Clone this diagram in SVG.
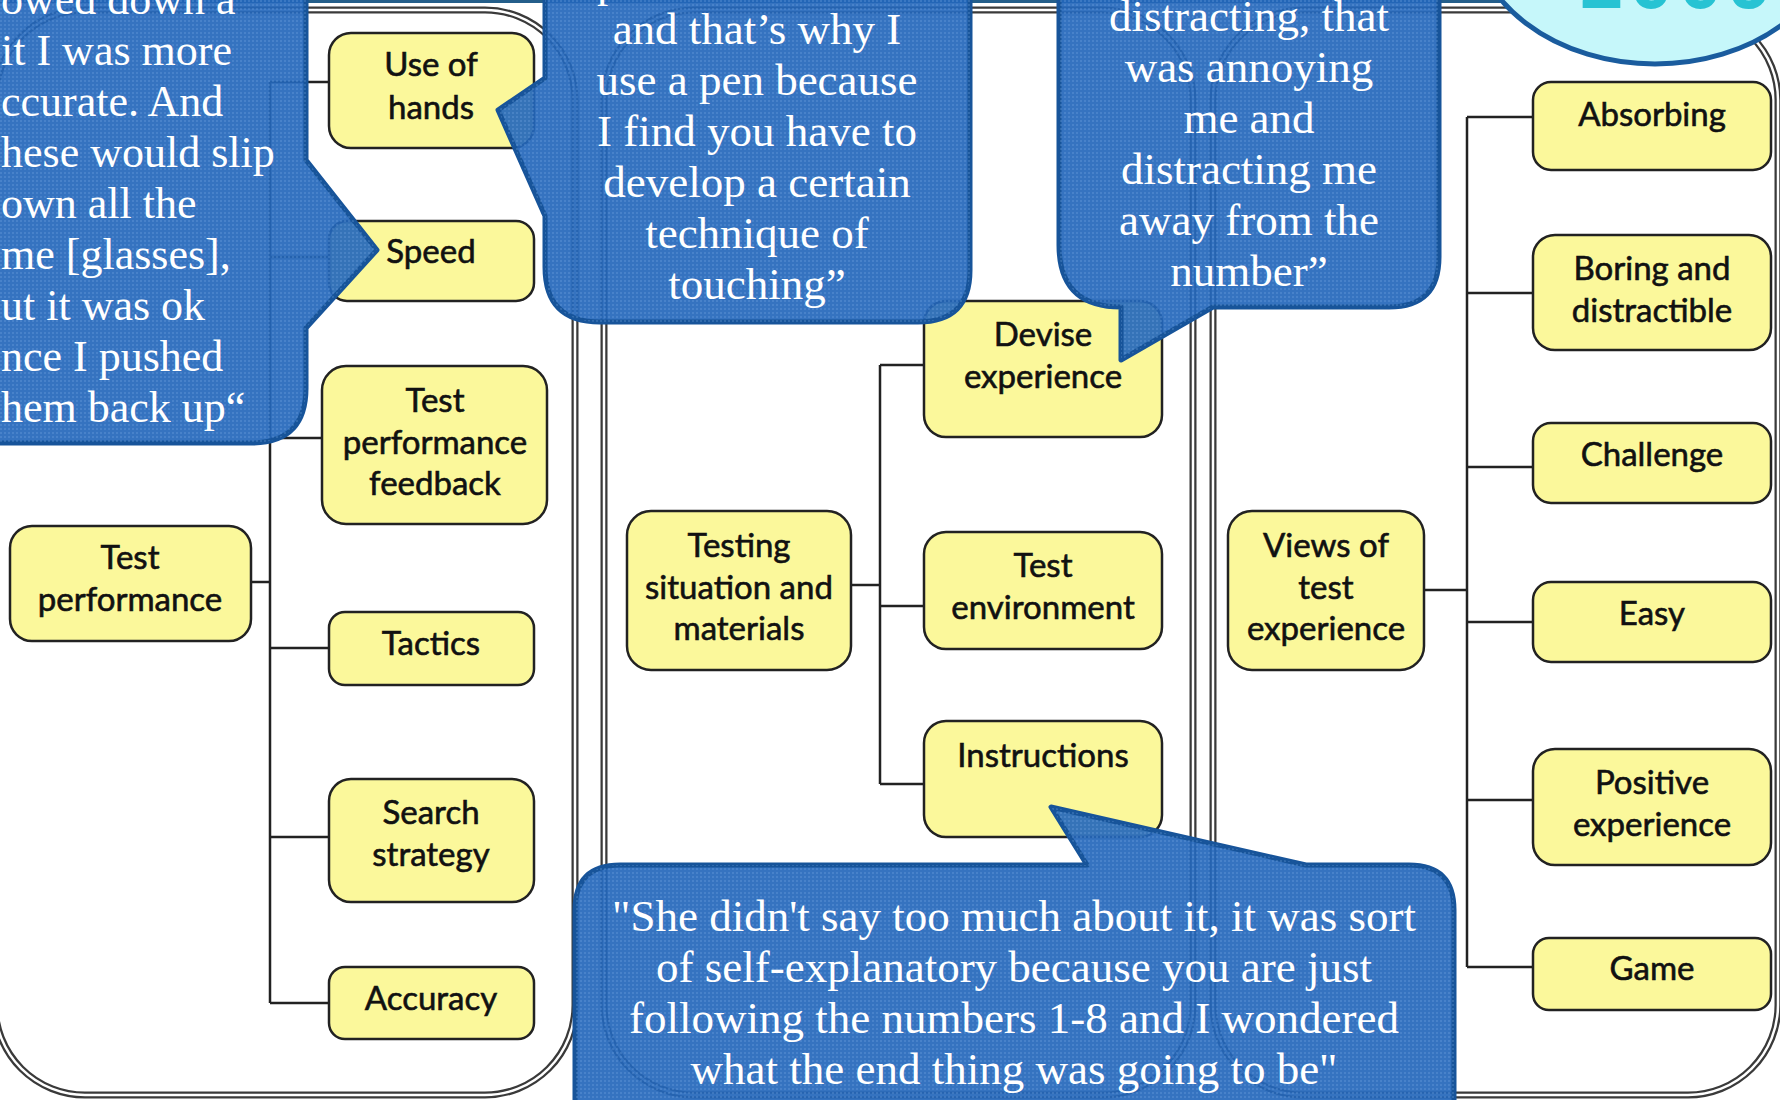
<svg xmlns="http://www.w3.org/2000/svg" width="1780" height="1100" viewBox="0 0 1780 1100">
<defs>
<style>
.panel-o{fill:none;stroke:#3a3a3a;stroke-width:7}
.panel-i{fill:none;stroke:#ffffff;stroke-width:2.5}
.node rect{fill:#FBF89B;stroke:#222;stroke-width:2.5}
.node text{font-family:Lato,"Open Sans","DejaVu Sans",sans-serif;font-size:33px;fill:#111;stroke:#111;stroke-width:0.6;text-anchor:middle}
.conn line{stroke:#222;stroke-width:2.5}
.bubble{fill:#2467BB;fill-opacity:0.92;stroke:#17549A;stroke-width:5;stroke-linejoin:round}
.dots{fill:url(#dots);stroke:none}
.bt{font-family:"Liberation Serif","Times New Roman",serif;font-size:45px;fill:#ffffff;text-anchor:middle}
.bl{font-size:44px;text-anchor:start}
</style>
<pattern id="dots" width="4" height="4" patternUnits="userSpaceOnUse"><rect width="2" height="2" fill="#7FAEE6" fill-opacity="0.25"/></pattern>
<path id="b1p" d="M -20,-20 L 306,-20 L 306,160 L 377,250 L 306,328 L 306,388 Q 306,443 251,443 L -20,443 Z"/>
<path id="b2p" d="M 545,-20 L 970,-20 L 970,270 Q 970,322 918,322 L 600,322 Q 545,322 545,267 L 545,216 L 498,110 L 545,78 Z"/>
<path id="b3p" d="M 1059,-20 L 1439,-20 L 1439,257 Q 1439,307 1389,307 L 1213,307 L 1121,360 L 1121,307 Q 1059,307 1059,245 Z"/>
<path id="b4p" d="M 575,1125 L 575,910 Q 575,865 620,865 L 1087,865 L 1051,807 L 1306,865 L 1409,865 Q 1454,865 1454,910 L 1454,1125 Z"/>
</defs>

<rect x="0" y="0" width="1780" height="1100" fill="#ffffff"/>
<rect x="0" y="0" width="1780" height="3" fill="#245E8A"/>

<g id="panels">
  <rect class="panel-o" x="-5" y="10" width="580" height="1085" rx="90"/>
  <rect class="panel-i" x="-5" y="10" width="580" height="1085" rx="90"/>
  <rect class="panel-o" x="604" y="10" width="589" height="1085" rx="90"/>
  <rect class="panel-i" x="604" y="10" width="589" height="1085" rx="90"/>
  <rect class="panel-o" x="1213" y="10" width="565" height="1085" rx="90"/>
  <rect class="panel-i" x="1213" y="10" width="565" height="1085" rx="90"/>
</g>

<g id="connectors" class="conn">
  <line x1="270" y1="82" x2="270" y2="1003"/>
  <line x1="250" y1="582" x2="270" y2="582"/>
  <line x1="270" y1="82" x2="329" y2="82"/>
  <line x1="270" y1="257" x2="329" y2="257"/>
  <line x1="270" y1="438" x2="322" y2="438"/>
  <line x1="270" y1="648" x2="329" y2="648"/>
  <line x1="270" y1="837" x2="329" y2="837"/>
  <line x1="270" y1="1003" x2="329" y2="1003"/>

  <line x1="880" y1="365" x2="880" y2="784"/>
  <line x1="851" y1="585" x2="880" y2="585"/>
  <line x1="880" y1="365" x2="924" y2="365"/>
  <line x1="880" y1="606" x2="924" y2="606"/>
  <line x1="880" y1="784" x2="924" y2="784"/>

  <line x1="1467" y1="117" x2="1467" y2="967"/>
  <line x1="1424" y1="590" x2="1467" y2="590"/>
  <line x1="1467" y1="117" x2="1533" y2="117"/>
  <line x1="1467" y1="293" x2="1533" y2="293"/>
  <line x1="1467" y1="467" x2="1533" y2="467"/>
  <line x1="1467" y1="622" x2="1533" y2="622"/>
  <line x1="1467" y1="800" x2="1533" y2="800"/>
  <line x1="1467" y1="967" x2="1533" y2="967"/>
</g>

<g id="test-performance" class="node"><rect x="10" y="526" width="241" height="115" rx="22"/><text x="130" y="569">Test</text><text x="130" y="611">performance</text></g>
<g id="use-of-hands" class="node"><rect x="329" y="33" width="205" height="115" rx="22"/><text x="431" y="76">Use of</text><text x="431" y="119">hands</text></g>
<g id="speed" class="node"><rect x="329" y="221" width="205" height="80" rx="18"/><text x="431" y="263">Speed</text></g>
<g id="test-performance-feedback" class="node"><rect x="322" y="366" width="225" height="158" rx="24"/><text x="435" y="412">Test</text><text x="435" y="454">performance</text><text x="435" y="495">feedback</text></g>
<g id="tactics" class="node"><rect x="329" y="612" width="205" height="73" rx="16"/><text x="431" y="655">Tactics</text></g>
<g id="search-strategy" class="node"><rect x="329" y="779" width="205" height="123" rx="22"/><text x="431" y="824">Search</text><text x="431" y="866">strategy</text></g>
<g id="accuracy" class="node"><rect x="329" y="967" width="205" height="72" rx="16"/><text x="431" y="1010">Accuracy</text></g>

<g id="testing-situation" class="node"><rect x="627" y="511" width="224" height="159" rx="24"/><text x="739" y="557">Testing</text><text x="739" y="599">situation and</text><text x="739" y="640">materials</text></g>
<g id="devise-experience" class="node"><rect x="924" y="301" width="238" height="136" rx="22"/><text x="1043" y="346">Devise</text><text x="1043" y="388">experience</text></g>
<g id="test-environment" class="node"><rect x="924" y="532" width="238" height="117" rx="22"/><text x="1043" y="577">Test</text><text x="1043" y="619">environment</text></g>
<g id="instructions" class="node"><rect x="924" y="721" width="238" height="116" rx="22"/><text x="1043" y="767">Instructions</text></g>

<g id="views-of-test-experience" class="node"><rect x="1228" y="511" width="196" height="159" rx="24"/><text x="1326" y="557">Views of</text><text x="1326" y="599">test</text><text x="1326" y="640">experience</text></g>
<g id="absorbing" class="node"><rect x="1533" y="82" width="238" height="88" rx="18"/><text x="1652" y="126">Absorbing</text></g>
<g id="boring-and-distractible" class="node"><rect x="1533" y="235" width="238" height="115" rx="22"/><text x="1652" y="280">Boring and</text><text x="1652" y="322">distractible</text></g>
<g id="challenge" class="node"><rect x="1533" y="423" width="238" height="80" rx="18"/><text x="1652" y="466">Challenge</text></g>
<g id="easy" class="node"><rect x="1533" y="582" width="238" height="80" rx="18"/><text x="1652" y="625">Easy</text></g>
<g id="positive-experience" class="node"><rect x="1533" y="749" width="238" height="116" rx="22"/><text x="1652" y="794">Positive</text><text x="1652" y="836">experience</text></g>
<g id="game" class="node"><rect x="1533" y="938" width="238" height="72" rx="16"/><text x="1652" y="980">Game</text></g>

<g id="quote-glasses">
  <use href="#b1p" class="bubble"/><use href="#b1p" class="dots"/>
  <text class="bt bl" x="1" y="14">owed down a</text>
  <text class="bt bl" x="1" y="65">it I was more</text>
  <text class="bt bl" x="1" y="116">ccurate. And</text>
  <text class="bt bl" x="1" y="167">hese would slip</text>
  <text class="bt bl" x="1" y="218">own all the</text>
  <text class="bt bl" x="1" y="269">me [glasses],</text>
  <text class="bt bl" x="1" y="320">ut it was ok</text>
  <text class="bt bl" x="1" y="371">nce I pushed</text>
  <text class="bt bl" x="1" y="422">hem back up“</text>
</g>

<g id="quote-pen">
  <use href="#b2p" class="bubble"/><use href="#b2p" class="dots"/>
  <text class="bt" x="597" y="-3" style="text-anchor:start">p</text>
  <text class="bt" x="757" y="44">and that’s why I</text>
  <text class="bt" x="757" y="95">use a pen because</text>
  <text class="bt" x="757" y="146">I find you have to</text>
  <text class="bt" x="757" y="197">develop a certain</text>
  <text class="bt" x="757" y="248">technique of</text>
  <text class="bt" x="757" y="299">touching”</text>
</g>

<g id="quote-distracting">
  <use href="#b3p" class="bubble"/><use href="#b3p" class="dots"/>
  <text class="bt" x="1249" y="31">distracting, that</text>
  <text class="bt" x="1249" y="82">was annoying</text>
  <text class="bt" x="1249" y="133">me and</text>
  <text class="bt" x="1249" y="184">distracting me</text>
  <text class="bt" x="1249" y="235">away from the</text>
  <text class="bt" x="1249" y="286">number”</text>
</g>

<g id="quote-instructions">
  <use href="#b4p" class="bubble"/><use href="#b4p" class="dots"/>
  <text class="bt" x="1014" y="931">"She didn't say too much about it, it was sort</text>
  <text class="bt" x="1014" y="982">of self-explanatory because you are just</text>
  <text class="bt" x="1014" y="1033">following the numbers 1-8 and I wondered</text>
  <text class="bt" x="1014" y="1084">what the end thing was going to be"</text>
</g>

<g id="title-bubble">
  <ellipse cx="1655" cy="-76" rx="183" ry="140" fill="#C6F7FA" stroke="#1A5C9E" stroke-width="5"/>
  <text x="1580" y="8" font-family="'Liberation Sans',Arial,sans-serif" font-weight="bold" font-size="78" letter-spacing="6" fill="#27C3D3">2009</text>
</g>
</svg>
